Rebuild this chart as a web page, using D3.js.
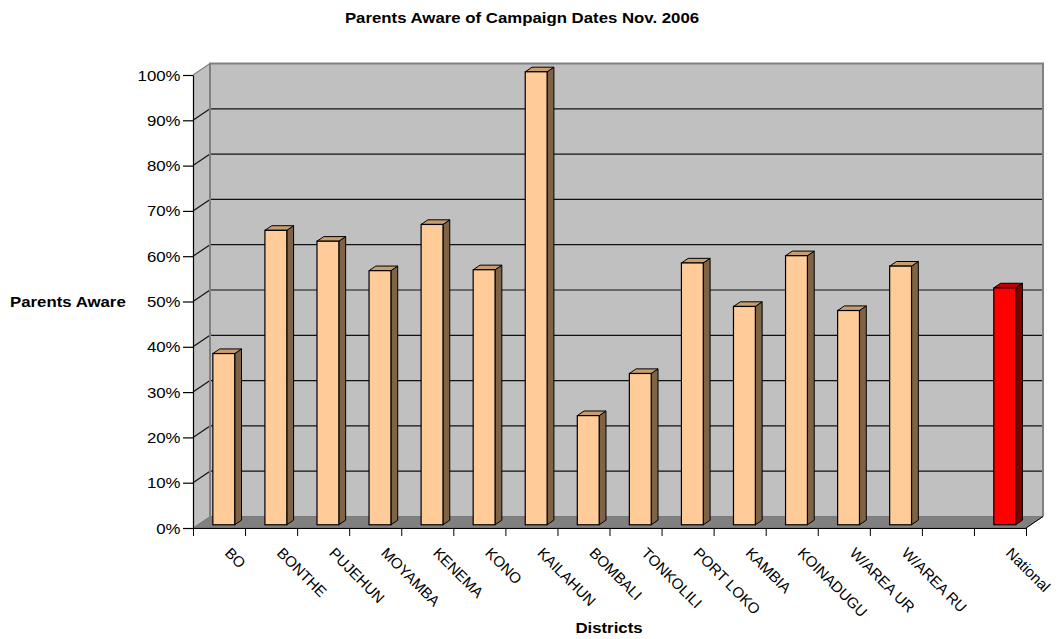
<!DOCTYPE html>
<html>
<head>
<meta charset="utf-8">
<script src="https://cdn.jsdelivr.net/npm/d3@7"></script>
<style>
  html, body { margin: 0; padding: 0; background: #fff; }
  svg { display: block; }
  text { font-family: "Liberation Sans", Arial, sans-serif; fill: #000; }
</style>
</head>
<body>
<svg id="chart" width="1058" height="639"></svg>
<script>
// District names along the x axis (one empty slot before the national figure)
const categories = ["BO", "BONTHE", "PUJEHUN", "MOYAMBA", "KENEMA", "KONO", "KAILAHUN",
  "BOMBALI", "TONKOLILI", "PORT LOKO", "KAMBIA", "KOINADUGU", "W/AREA UR", "W/AREA RU",
  "", "National"];
// Share of parents aware of the campaign dates
const values = [0.378, 0.650, 0.626, 0.561, 0.663, 0.563, 1.000,
  0.241, 0.334, 0.578, 0.482, 0.594, 0.473, 0.571,
  null, 0.523];
const yTicks = [0, 0.1, 0.2, 0.3, 0.4, 0.5, 0.6, 0.7, 0.8, 0.9, 1.0];

const titleText = "Parents Aware of Campaign Dates Nov. 2006";
const yTitle = "Parents Aware";
const xTitle = "Districts";

const svg = d3.select("#chart");

// Front plane of the 3-D box
const left = 193, right = 1026, floorY = 528, topY = 75;
// Oblique depth offset of the back wall
const depth = { dx: 17, dy: -11.5 };
// Bars sit part-way into the depth
const barFront = 0.28, barDepth = 0.40;
const stretch = 1.2;

const x = d3.scaleBand().domain(d3.range(categories.length)).range([left, right]).paddingInner(0).paddingOuter(0);
const xTick = d3.scaleLinear().domain([0, categories.length]).range([left, right]);
const y = d3.scaleLinear().domain([0, 1]).range([floorY, topY]);

const wallFill = "#C0C0C0", floorFill = "#808080", edge = "#808080";
const line = d3.line();

// Side wall (left)
svg.append("path")
  .attr("d", line([[left, y(0)], [left, y(1)], [left + depth.dx, y(1) + depth.dy], [left + depth.dx, y(0) + depth.dy]]) + "Z")
  .attr("fill", wallFill).attr("stroke", "none");

// Back wall
svg.append("rect")
  .attr("x", left + depth.dx).attr("y", y(1) + depth.dy)
  .attr("width", right - left).attr("height", y(0) - y(1))
  .attr("fill", wallFill);

// Floor
svg.append("path")
  .attr("d", line([[left, y(0)], [right, y(0)], [right + depth.dx, y(0) + depth.dy], [left + depth.dx, y(0) + depth.dy]]) + "Z")
  .attr("fill", floorFill).attr("stroke", "#555").attr("stroke-width", 0.6);

// Gridlines: across the back wall and diagonally over the side wall
const grid = svg.append("g");
yTicks.filter(v => v > 0 && v < 1).forEach(v => {
  grid.append("line")
    .attr("x1", left + depth.dx).attr("x2", right + depth.dx)
    .attr("y1", y(v) + depth.dy).attr("y2", y(v) + depth.dy)
    .attr("stroke", "#111").attr("stroke-width", 1.2);
});
yTicks.filter(v => v > 0).forEach(v => {
  grid.append("line")
    .attr("x1", left).attr("y1", y(v))
    .attr("x2", left + depth.dx).attr("y2", y(v) + depth.dy)
    .attr("stroke", v === 1 ? edge : "#111").attr("stroke-width", 1.2);
});

// Wall borders
svg.append("path")
  .attr("d", line([[left + depth.dx, y(0) + depth.dy], [left + depth.dx, y(1) + depth.dy],
    [right + depth.dx, y(1) + depth.dy], [right + depth.dx, y(0) + depth.dy]]))
  .attr("fill", "none").attr("stroke", edge).attr("stroke-width", 2);

// Bars
const bw = x.bandwidth() * 0.42;
const fx = depth.dx * barFront, fy = depth.dy * barFront;
const sx = depth.dx * barDepth, sy = depth.dy * barDepth;
const isNational = d => categories[d.i] === "National";
const barData = values.map((v, i) => ({ v, i })).filter(d => d.v != null);

const bars = svg.append("g").selectAll("g").data(barData).join("g");
bars.each(function (d) {
  const g = d3.select(this);
  const x0 = x(d.i) + x.bandwidth() / 2 - bw / 2 + fx;
  const x1 = x0 + bw;
  const yb = y(0) + fy, yt = y(d.v) + fy;
  const cFront = isNational(d) ? "#FF0000" : "#FFCC99";
  const cSide = isNational(d) ? "#800000" : "#7F6347";
  const cTop = isNational(d) ? "#C00000" : "#C89E6E";
  g.append("path")
    .attr("d", line([[x1, yb], [x1, yt], [x1 + sx, yt + sy], [x1 + sx, yb + sy]]) + "Z")
    .attr("fill", cSide).attr("stroke", "#000").attr("stroke-width", 1).attr("stroke-linejoin", "round");
  g.append("path")
    .attr("d", line([[x0, yt], [x1, yt], [x1 + sx, yt + sy], [x0 + sx, yt + sy]]) + "Z")
    .attr("fill", cTop).attr("stroke", "#000").attr("stroke-width", 1).attr("stroke-linejoin", "round");
  g.append("rect")
    .attr("x", x0).attr("y", yt).attr("width", bw).attr("height", yb - yt)
    .attr("fill", cFront).attr("stroke", "#000").attr("stroke-width", 1.2);
});

// Floor right edge
svg.append("line")
  .attr("x1", right).attr("y1", y(0)).attr("x2", right + depth.dx).attr("y2", y(0) + depth.dy)
  .attr("stroke", "#000").attr("stroke-width", 1);

// Y axis
const yAxis = svg.append("g")
  .attr("transform", `translate(${left},0)`)
  .call(d3.axisLeft(y).tickValues(yTicks).tickFormat(d3.format(".0%")).tickSize(10).tickSizeOuter(0));
yAxis.select(".domain").attr("stroke", "#000").attr("stroke-width", 1.2);
yAxis.selectAll(".tick line").attr("stroke", "#000").attr("stroke-width", 1.2);
yAxis.selectAll(".tick text")
  .attr("x", null).attr("dy", null).attr("y", 5)
  .attr("transform", `translate(-12.5,0) scale(${stretch},1)`)
  .style("font-size", "14px").style("font-family", "Liberation Sans, Arial, sans-serif")
  .attr("fill", "#000");

// X axis: ticks at category boundaries
const xAxis = svg.append("g")
  .attr("transform", `translate(0,${floorY})`)
  .call(d3.axisBottom(xTick).tickValues(d3.range(categories.length + 1)).tickFormat("").tickSize(8).tickSizeOuter(0));
xAxis.select(".domain").attr("stroke", "#000").attr("stroke-width", 1.2);
xAxis.selectAll(".tick line").attr("stroke", "#000").attr("stroke-width", 1);

// Category labels, slanted
svg.append("g").selectAll("text").data(categories).join("text")
  .attr("transform", (d, i) => `translate(${x(i) + x.bandwidth() / 2 + 5},${floorY + 26}) rotate(45)`)
  .style("font-size", "15px")
  .text(d => d);

// Titles
svg.append("text")
  .attr("transform", `translate(522,23) scale(${stretch},1)`)
  .attr("text-anchor", "middle")
  .style("font-size", "14px").style("font-weight", "bold")
  .text(titleText);

svg.append("text")
  .attr("transform", `translate(10,307) scale(${stretch},1)`)
  .style("font-size", "14px").style("font-weight", "bold")
  .text(yTitle);

svg.append("text")
  .attr("transform", `translate(609,633) scale(${stretch},1)`)
  .attr("text-anchor", "middle")
  .style("font-size", "14px").style("font-weight", "bold")
  .text(xTitle);
</script>
</body>
</html>
